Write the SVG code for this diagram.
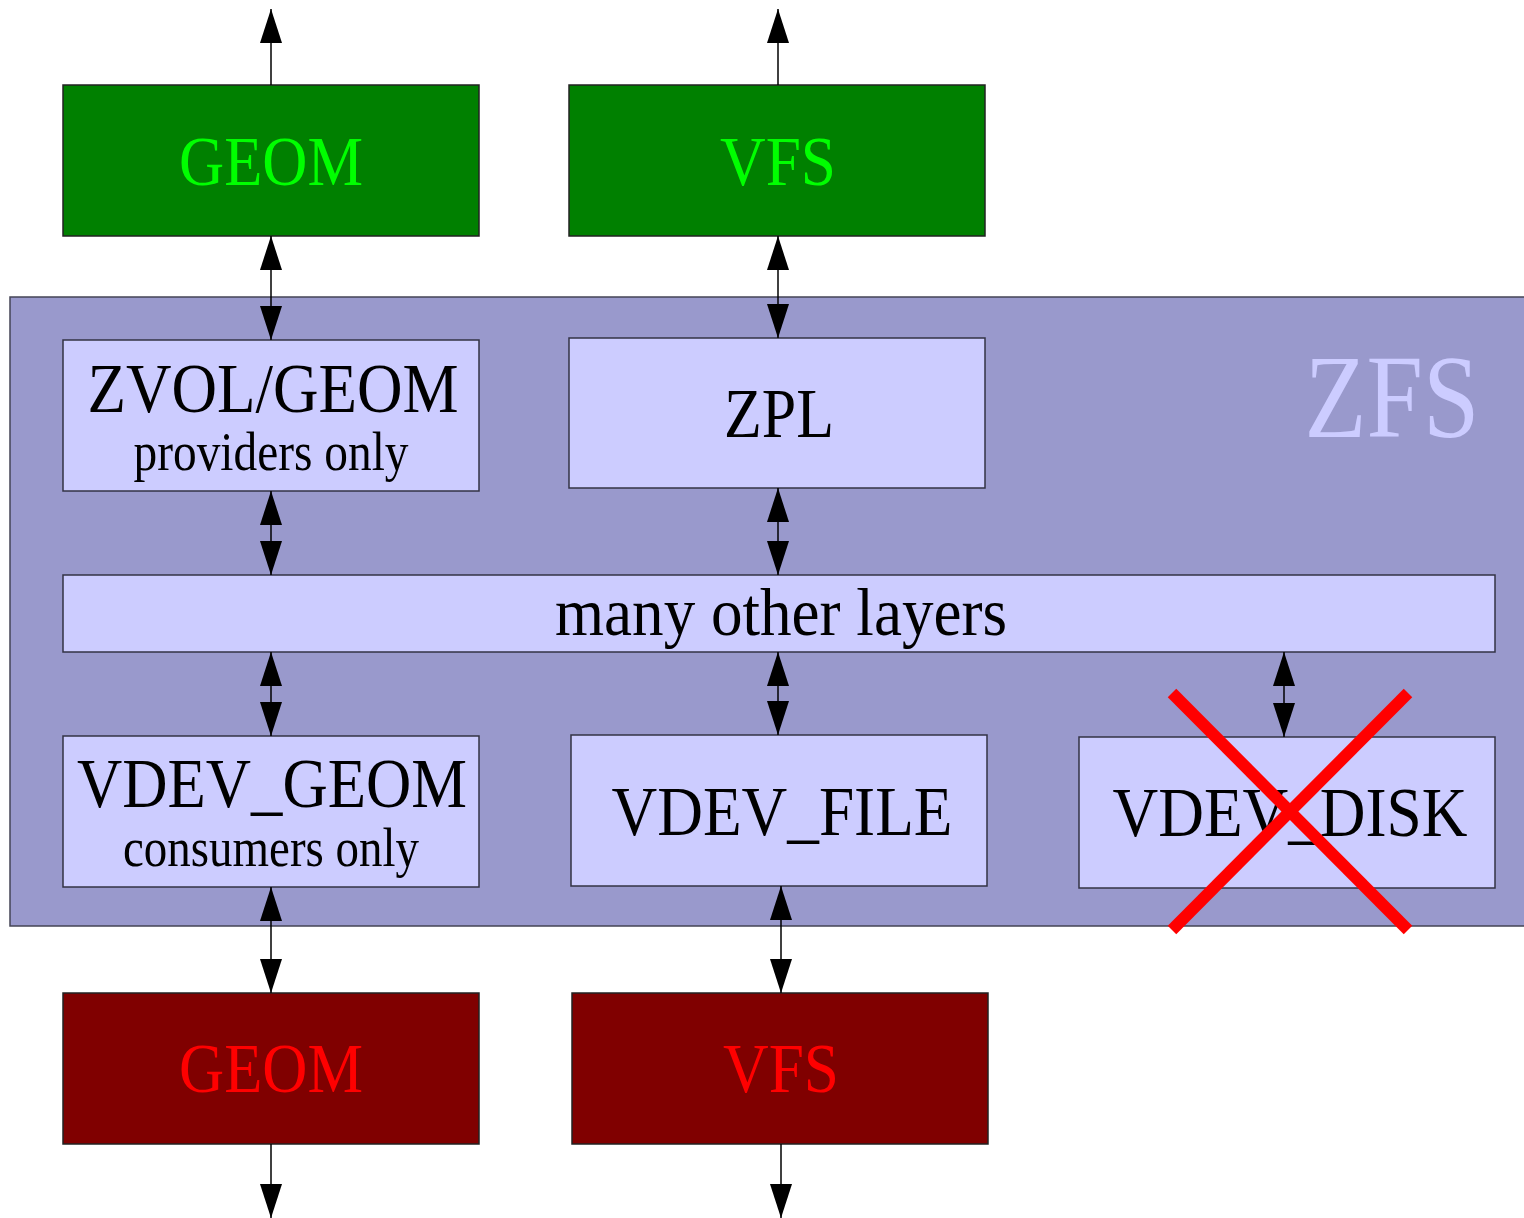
<svg xmlns="http://www.w3.org/2000/svg" width="1524" height="1218" viewBox="0 0 1524 1218">
<style>
.t{font-family:"Liberation Serif","Times New Roman",serif;text-anchor:middle}
.big{font-size:70px}
.sub{font-size:54px}
.box{fill:#ccccff;stroke:#333344;stroke-width:1.5}
.grn{fill:#008000;stroke:#222;stroke-width:1.5}
.red{fill:#800000;stroke:#222;stroke-width:1.5}
.c line{stroke:#000;stroke-width:1.5;fill:none}
</style>
<defs>
<marker id="ah" markerUnits="userSpaceOnUse" markerWidth="34" markerHeight="22" viewBox="0 0 34 22" refX="34" refY="11" orient="auto-start-reverse"><path d="M0,0 L34,11 L0,22 z" fill="#000"/></marker>
</defs>
<rect width="1524" height="1218" fill="#fff"/>
<g id="zfs">
<rect x="10" y="297" width="1530" height="629" fill="#9999cc" stroke="#444455" stroke-width="1.5"/>
<text class="t" x="1392" y="437" font-size="118" fill="#ccccff" textLength="175" lengthAdjust="spacingAndGlyphs">ZFS</text>
</g>
<g id="geom-top"><rect class="grn" x="63" y="85" width="416" height="151"/><text class="t big" x="271" y="185" fill="#00ff00" textLength="184" lengthAdjust="spacingAndGlyphs">GEOM</text></g>
<g id="vfs-top"><rect class="grn" x="569" y="85" width="416" height="151"/><text class="t big" x="778" y="185" fill="#00ff00" textLength="116" lengthAdjust="spacingAndGlyphs">VFS</text></g>
<g id="zvol"><rect class="box" x="63" y="340" width="416" height="151"/><text class="t big" x="273" y="412" textLength="371" lengthAdjust="spacingAndGlyphs">ZVOL/GEOM</text><text class="t sub" x="271" y="470" textLength="275" lengthAdjust="spacingAndGlyphs">providers only</text></g>
<g id="zpl"><rect class="box" x="569" y="338" width="416" height="150"/><text class="t big" x="779" y="437" textLength="110" lengthAdjust="spacingAndGlyphs">ZPL</text></g>
<g id="layers"><rect class="box" x="63" y="575" width="1432" height="77"/><text class="t" font-size="68" x="781" y="635" textLength="452" lengthAdjust="spacingAndGlyphs">many other layers</text></g>
<g id="vdev-geom"><rect class="box" x="63" y="736" width="416" height="151"/><text class="t big" x="272" y="807" textLength="390" lengthAdjust="spacingAndGlyphs">VDEV_GEOM</text><text class="t sub" x="271" y="866" textLength="296" lengthAdjust="spacingAndGlyphs">consumers only</text></g>
<g id="vdev-file"><rect class="box" x="571" y="735" width="416" height="151"/><text class="t big" x="782" y="835" textLength="341" lengthAdjust="spacingAndGlyphs">VDEV_FILE</text></g>
<g id="vdev-disk"><rect class="box" x="1079" y="737" width="416" height="151"/><text class="t big" x="1290" y="836" textLength="355" lengthAdjust="spacingAndGlyphs">VDEV_DISK</text></g>
<g id="geom-bottom"><rect class="red" x="63" y="993" width="416" height="151"/><text class="t big" x="271" y="1092" fill="#ff0000" textLength="184" lengthAdjust="spacingAndGlyphs">GEOM</text></g>
<g id="vfs-bottom"><rect class="red" x="572" y="993" width="416" height="151"/><text class="t big" x="781" y="1092" fill="#ff0000" textLength="116" lengthAdjust="spacingAndGlyphs">VFS</text></g>
<g id="cross" stroke="#ff0000" stroke-width="12">
<line x1="1172" y1="693" x2="1408" y2="930"/>
<line x1="1408" y1="693" x2="1172" y2="930"/>
</g>
<g id="connectors" class="c">
<line x1="271" y1="85" x2="271" y2="9" marker-end="url(#ah)"/>
<line x1="778" y1="85" x2="778" y2="9" marker-end="url(#ah)"/>
<line x1="271" y1="236" x2="271" y2="340" marker-start="url(#ah)" marker-end="url(#ah)"/>
<line x1="778" y1="236" x2="778" y2="338" marker-start="url(#ah)" marker-end="url(#ah)"/>
<line x1="271" y1="491" x2="271" y2="575" marker-start="url(#ah)" marker-end="url(#ah)"/>
<line x1="778" y1="488" x2="778" y2="575" marker-start="url(#ah)" marker-end="url(#ah)"/>
<line x1="271" y1="652" x2="271" y2="736" marker-start="url(#ah)" marker-end="url(#ah)"/>
<line x1="778" y1="652" x2="778" y2="735" marker-start="url(#ah)" marker-end="url(#ah)"/>
<line x1="1284" y1="652" x2="1284" y2="737" marker-start="url(#ah)" marker-end="url(#ah)"/>
<line x1="271" y1="887" x2="271" y2="993" marker-start="url(#ah)" marker-end="url(#ah)"/>
<line x1="781" y1="886" x2="781" y2="993" marker-start="url(#ah)" marker-end="url(#ah)"/>
<line x1="271" y1="1144" x2="271" y2="1218" marker-end="url(#ah)"/>
<line x1="781" y1="1144" x2="781" y2="1218" marker-end="url(#ah)"/>
</g>
</svg>
